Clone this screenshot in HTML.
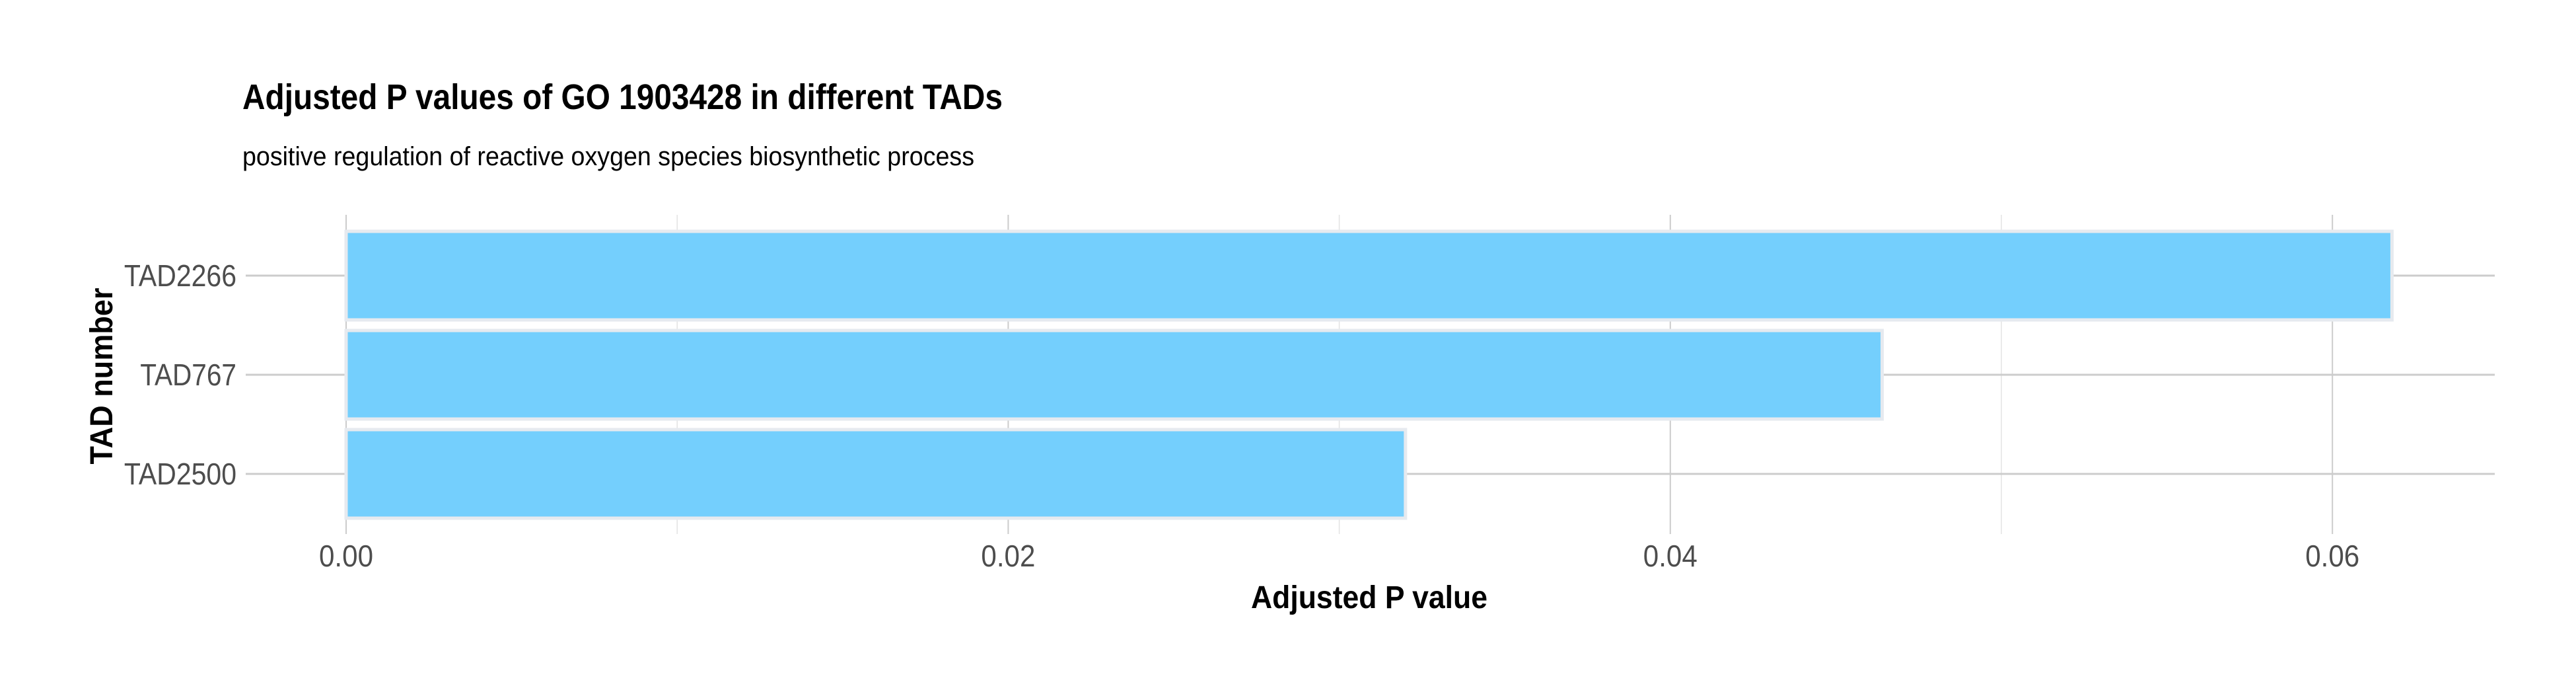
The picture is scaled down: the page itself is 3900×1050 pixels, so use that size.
<!DOCTYPE html>
<html><head><meta charset="utf-8"><style>
html,body{margin:0;padding:0;background:#fff;}
svg{display:block;font-family:"Liberation Sans",sans-serif;}
</style></head><body>
<svg id="chart" width="3900" height="1050" viewBox="0 0 3900 1050" xmlns="http://www.w3.org/2000/svg">
<rect width="3900" height="1050" fill="#fff"/>
<text x="367" y="165" font-size="54" font-weight="bold" textLength="1151" lengthAdjust="spacingAndGlyphs">Adjusted P values of GO 1903428 in different TADs</text>
<text x="367" y="250" font-size="40" textLength="1108" lengthAdjust="spacingAndGlyphs">positive regulation of reactive oxygen species biosynthetic process</text>
<g id="grid"></g>
<g id="bars"></g>
<g id="axes"></g>
<text x="2073" y="920" font-size="48" font-weight="bold" text-anchor="middle" textLength="358" lengthAdjust="spacingAndGlyphs">Adjusted P value</text>
<text transform="translate(170,569) rotate(-90)" font-size="48" font-weight="bold" text-anchor="middle" textLength="267" lengthAdjust="spacingAndGlyphs">TAD number</text>
</svg>
<script>
const categories = ["TAD2266", "TAD767", "TAD2500"];
const values = [0.0618, 0.0464, 0.0320];
const xTicks = [0, 0.02, 0.04, 0.06];
const xTickLabels = ["0.00", "0.02", "0.04", "0.06"];
const xMinor = [0.01, 0.03, 0.05];

const NS = "http://www.w3.org/2000/svg";
const panelL = 372, panelR = 3777, panelT = 325, panelB = 808;
const x0 = 524, xPerUnit = 50120;
const xs = v => x0 + v * xPerUnit;
const band = 150;
const ys = i => 417 + band * i;
function mk(tag, attrs, parent) {
  const e = document.createElementNS(NS, tag);
  for (const k in attrs) e.setAttribute(k, attrs[k]);
  parent.appendChild(e);
  return e;
}
const grid = document.getElementById("grid");
const bars = document.getElementById("bars");
const axes = document.getElementById("axes");
xMinor.forEach(v => {
  const l = mk("line", {x1: xs(v), x2: xs(v), y1: panelT, y2: panelB, stroke: "#e3e3e3", "stroke-width": 1.5}, grid);
  
  
});
xTicks.forEach((v, i) => {
  const l = mk("line", {x1: xs(v), x2: xs(v), y1: panelT, y2: panelB, stroke: "#cccccc", "stroke-width": 2}, grid);
  
  
  const t = mk("text", {x: xs(v), y: 857, "font-size": 46, "text-anchor": "middle", fill: "#4d4d4d", textLength: 82, lengthAdjust: "spacingAndGlyphs"}, axes);
  t.textContent = xTickLabels[i];
  
  
});
categories.forEach((c, i) => {
  const y = ys(i);
  const l = mk("line", {x1: panelL, x2: panelR, y1: y, y2: y, stroke: "#cccccc", "stroke-width": 3}, grid);
  
  
  const h = 134;
  const r = mk("rect", {x: xs(0), y: y - h / 2, width: xs(values[i]) - xs(0), height: h, fill: "#74cffd", stroke: "#e6eaef", "stroke-width": 5}, bars);
  
  
  const t = mk("text", {x: 358, y: y + 16, "font-size": 46, "text-anchor": "end", fill: "#4d4d4d", textLength: c.length * 24.3, lengthAdjust: "spacingAndGlyphs"}, axes);
  t.textContent = c;
  
  
});
</script>
</body></html>
